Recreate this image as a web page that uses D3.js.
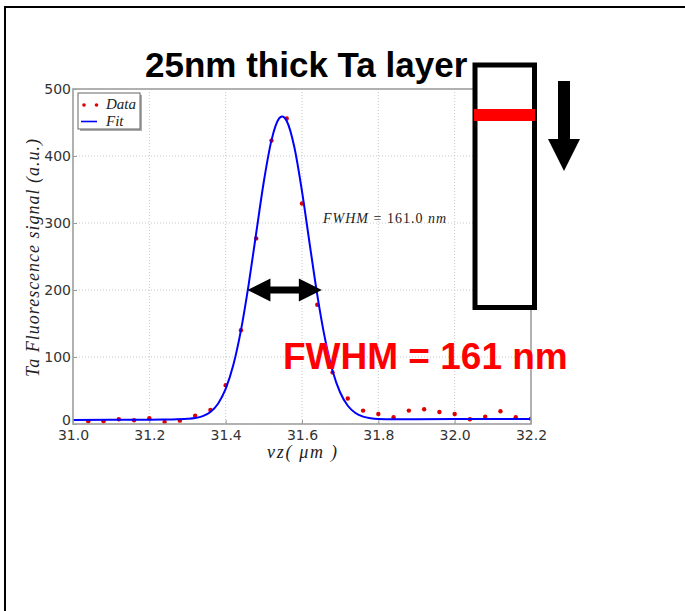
<!DOCTYPE html>
<html>
<head>
<meta charset="utf-8">
<script src="https://cdn.jsdelivr.net/npm/d3@7"></script>
<style>
  body { margin: 0; background: #fff; }
  svg { display: block; }
</style>
</head>
<body>
<svg id="chart" width="685" height="611"></svg>
<script>
// --- Data ---
var dataX = [31.04, 31.08, 31.12, 31.16, 31.20, 31.24, 31.28, 31.32, 31.36, 31.40,
             31.44, 31.48, 31.52, 31.56, 31.60, 31.64, 31.68, 31.72, 31.76, 31.80,
             31.84, 31.88, 31.92, 31.96, 32.00, 32.04, 32.08, 32.12, 32.16, 32.20];
var dataY = [4, 4, 7, 5.5, 8.5, 3, 5, 12.5, 21, 58,
             140, 277, 423, 456, 329, 178, 77, 38, 20, 15,
             10, 20, 22, 18, 15, 7, 11, 19, 10, 8];

var fitX = [31.00, 31.10, 31.20, 31.26, 31.30, 31.32, 31.34, 31.36, 31.38, 31.40,
            31.42, 31.44, 31.46, 31.48, 31.50, 31.52, 31.54, 31.548, 31.56, 31.58,
            31.60, 31.62, 31.64, 31.66, 31.68, 31.70, 31.72, 31.74, 31.76, 31.78,
            31.80, 31.84, 31.90, 32.00, 32.10, 32.20];
var fitY = [6, 6.2, 6.5, 6.8, 7.7, 8.9, 11.8, 18, 30.3, 52.3,
            87.9, 139.8, 207.4, 285.1, 361.9, 423.3, 456, 459, 452.2, 413,
            347.3, 269.3, 192.8, 128.1, 79.5, 47, 27.2, 16.4, 11, 8.6,
            7.6, 7.2, 7.2, 7.3, 7.4, 7.5];

var xTicks = [31.0, 31.2, 31.4, 31.6, 31.8, 32.0, 32.2];
var yTicks = [0, 100, 200, 300, 400, 500];

// FWHM arrow: span in x and the level it sits at
var arrowSpan = [31.457, 31.652];
var arrowLevel = 200;

(function () {
  "use strict";

  var svg = d3.select("#chart");
  var left = 73, right = 531, top = 89, bottom = 424;

  var x = d3.scaleLinear().domain([31.0, 32.2]).range([left, right]);
  var y = d3.scaleLinear().domain([0, 500]).range([bottom, top]);

  // --- Outer frame (only top and left visible) ---
  svg.append("path")
    .attr("d", "M5,611 V7 H685")
    .attr("fill", "none")
    .attr("stroke", "#000")
    .attr("stroke-width", 2);

  // --- Grid ---
  var grid = svg.append("g").attr("stroke", "#c8c8c8").attr("stroke-dasharray", "1,2");
  grid.selectAll("line.gx").data(xTicks).enter().append("line")
    .attr("x1", function (d) { return x(d); }).attr("x2", function (d) { return x(d); })
    .attr("y1", top).attr("y2", bottom);
  grid.selectAll("line.gy").data(yTicks).enter().append("line")
    .attr("y1", function (d) { return y(d); }).attr("y2", function (d) { return y(d); })
    .attr("x1", left).attr("x2", right);

  // --- Axes ---
  var xAxis = d3.axisBottom(x).tickValues(xTicks).tickFormat(d3.format(".1f"))
    .tickSizeInner(-4).tickSizeOuter(0).tickPadding(6);
  var yAxis = d3.axisLeft(y).tickValues(yTicks).tickFormat(d3.format("d"))
    .tickSizeInner(-4).tickSizeOuter(0).tickPadding(2);

  var gx = svg.append("g").attr("transform", "translate(0," + bottom + ")").call(xAxis);
  var gy = svg.append("g").attr("transform", "translate(" + left + ",0)").call(yAxis);
  [gx, gy].forEach(function (g) {
    g.select(".domain").remove();
    g.selectAll(".tick line").attr("stroke", "#999");
    g.selectAll(".tick text")
      .attr("fill", "#333")
      .attr("font-family", "DejaVu Sans, sans-serif")
      .attr("font-size", "14px");
  });
  // lift the "0" label a touch so it sits just above "31.0"
  gy.selectAll(".tick text").filter(function (d) { return d === 0; }).attr("dy", "0.05em");

  // --- Clip ---
  svg.append("clipPath").attr("id", "plot-clip")
    .append("rect").attr("x", left).attr("y", top)
    .attr("width", right - left).attr("height", bottom - top);

  // --- Data points ---
  svg.append("g").attr("clip-path", "url(#plot-clip)")
    .selectAll("circle").data(dataX).enter().append("circle")
    .attr("cx", function (d) { return x(d); })
    .attr("cy", function (d, i) { return y(dataY[i]); })
    .attr("r", 2.2)
    .attr("fill", "#e00000");

  // --- Fit line ---
  var line = d3.line()
    .x(function (d) { return x(d); })
    .y(function (d, i) { return y(fitY[i]); })
    .curve(d3.curveMonotoneX);
  svg.append("path")
    .attr("clip-path", "url(#plot-clip)")
    .attr("d", line(fitX))
    .attr("fill", "none")
    .attr("stroke", "#0000ff")
    .attr("stroke-width", 2);

  // --- Spines ---
  svg.append("rect")
    .attr("x", left).attr("y", top)
    .attr("width", right - left).attr("height", bottom - top)
    .attr("fill", "none")
    .attr("stroke", "#a0a0a0")
    .attr("stroke-width", 1.6);

  // --- Legend ---
  var lg = svg.append("g");
  lg.append("rect").attr("x", 80).attr("y", 95).attr("width", 62).attr("height", 36)
    .attr("fill", "#aaa");
  lg.append("rect").attr("x", 78).attr("y", 93).attr("width", 62).attr("height", 36)
    .attr("fill", "#fff").attr("stroke", "#666").attr("stroke-width", 1);
  lg.selectAll("circle").data([84, 96.5]).enter().append("circle")
    .attr("cx", function (d) { return d; }).attr("cy", 105).attr("r", 1.8)
    .attr("fill", "#e00000");
  lg.append("line").attr("x1", 81).attr("x2", 97).attr("y1", 121.5).attr("y2", 121.5)
    .attr("stroke", "#0000ff").attr("stroke-width", 1.6);
  lg.append("text").attr("x", 106).attr("y", 109).text("Data")
    .attr("font-family", "Liberation Serif, serif").attr("font-style", "italic")
    .attr("font-size", "15px").attr("fill", "#222");
  lg.append("text").attr("x", 106).attr("y", 126).text("Fit")
    .attr("font-family", "Liberation Serif, serif").attr("font-style", "italic")
    .attr("font-size", "15px").attr("fill", "#222");

  // --- Axis labels ---
  svg.append("text")
    .attr("transform", "translate(39,258) rotate(-90)")
    .attr("text-anchor", "middle")
    .attr("font-family", "Liberation Serif, serif")
    .attr("font-style", "italic")
    .attr("font-size", "18px")
    .attr("fill", "#222")
    .attr("textLength", 238)
    .attr("lengthAdjust", "spacing")
    .text("Ta Fluorescence signal (a.u.)");

  svg.append("text")
    .attr("x", 302).attr("y", 458)
    .attr("text-anchor", "middle")
    .attr("font-family", "Liberation Serif, serif")
    .attr("font-style", "italic")
    .attr("font-size", "18px")
    .attr("fill", "#222")
    .attr("textLength", 70)
    .attr("lengthAdjust", "spacing")
    .text("vz( μm )");

  // --- FWHM annotation in plot ---
  var fa = svg.append("text").attr("x", 323).attr("y", 223)
    .attr("font-family", "Liberation Serif, serif")
    .attr("font-size", "14px").attr("fill", "#222")
    .attr("textLength", 123).attr("lengthAdjust", "spacing");
  fa.append("tspan").attr("font-style", "italic").text("FWHM");
  fa.append("tspan").text(" = 161.0 ");
  fa.append("tspan").attr("font-style", "italic").text("nm");

  // --- Double-headed arrow ---
  var ax0 = x(arrowSpan[0]), ax1 = x(arrowSpan[1]), ay = y(arrowLevel);
  var hl = 23, hh = 11.5, sh = 3.5;
  svg.append("path")
    .attr("d",
      "M" + ax0 + "," + ay +
      " L" + (ax0 + hl) + "," + (ay - hh) +
      " L" + (ax0 + hl) + "," + (ay - sh) +
      " L" + (ax1 - hl) + "," + (ay - sh) +
      " L" + (ax1 - hl) + "," + (ay - hh) +
      " L" + ax1 + "," + ay +
      " L" + (ax1 - hl) + "," + (ay + hh) +
      " L" + (ax1 - hl) + "," + (ay + sh) +
      " L" + (ax0 + hl) + "," + (ay + sh) +
      " L" + (ax0 + hl) + "," + (ay + hh) + " Z")
    .attr("fill", "#000");

  // --- Layer sketch on the right ---
  svg.append("rect")
    .attr("x", 475).attr("y", 65).attr("width", 59.5).attr("height", 242.5)
    .attr("fill", "#fff").attr("stroke", "#000").attr("stroke-width", 5);
  svg.append("rect")
    .attr("x", 474).attr("y", 109).attr("width", 61).attr("height", 12)
    .attr("fill", "#ff0000");

  // Down arrow
  svg.append("path")
    .attr("d", "M558,81 H570 V139 H580 L564,171 L548,139 H558 Z")
    .attr("fill", "#000");

  // --- Title ---
  svg.append("text")
    .attr("x", 145).attr("y", 77)
    .attr("font-family", "Liberation Sans, Arial, sans-serif")
    .attr("font-weight", "bold")
    .attr("font-size", "35px")
    .attr("fill", "#000")
    .text("25nm thick Ta layer");

  // --- FWHM big label ---
  svg.append("text")
    .attr("x", 283).attr("y", 369)
    .attr("font-family", "Liberation Sans, Arial, sans-serif")
    .attr("font-weight", "bold")
    .attr("font-size", "37px")
    .attr("fill", "#ff0000")
    .text("FWHM = 161 nm");
})();
</script>
</body>
</html>
